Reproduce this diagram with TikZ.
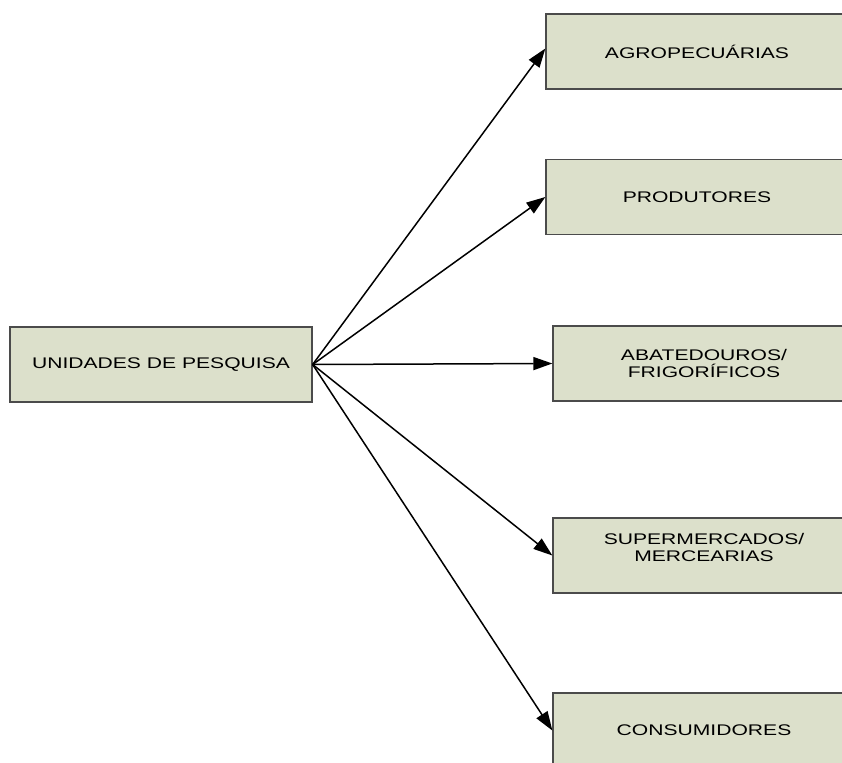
\documentclass[tikz,border=0pt]{standalone}
\usepackage{fontspec}
\newfontfamily\caixafont[FakeStretch=1.37]{Liberation Sans}
\usetikzlibrary{arrows.meta}
\definecolor{fundo}{RGB}{220,224,203}
\definecolor{borda}{RGB}{75,75,75}
\tikzset{
  caixa/.style={draw=borda,line width=1.3pt,fill=fundo,minimum width=302pt,
    minimum height=75pt,inner sep=0pt,align=center,
    font=\caixafont\fontsize{15.4}{17}\selectfont},
  seta/.style={-{Triangle[length=19pt,width=13pt]},line width=1.5pt}
}
\begin{document}
\begin{tikzpicture}[x=1pt,y=-1pt]
  \useasboundingbox (0,0) rectangle (842,762);
  \node[caixa] (unidades) at (161,364.5) {UNIDADES DE PESQUISA};
  \node[caixa] (agro) at (697,51.5) {AGROPECUÁRIAS};
  \node[caixa] (produtores) at (697,197) {PRODUTORES};
  \node[caixa] (abatedouros) at (704,363.5) {ABATEDOUROS/\\FRIGORÍFICOS};
  \node[caixa] (super) at (704,555.5) {SUPERMERCADOS/\\MERCEARIAS\\ \mbox{}};
  \node[caixa] (consumidores) at (704,730.5) {CONSUMIDORES};
  % setas
  \draw[seta] (unidades.east) -- ([yshift=3pt]agro.west);
  \draw[seta] (unidades.east) -- (produtores.west);
  \draw[seta] (unidades.east) -- (abatedouros.west);
  \draw[seta] (unidades.east) -- (super.west);
  \draw[seta] (unidades.east) -- (consumidores.west);
\end{tikzpicture}
\end{document}
